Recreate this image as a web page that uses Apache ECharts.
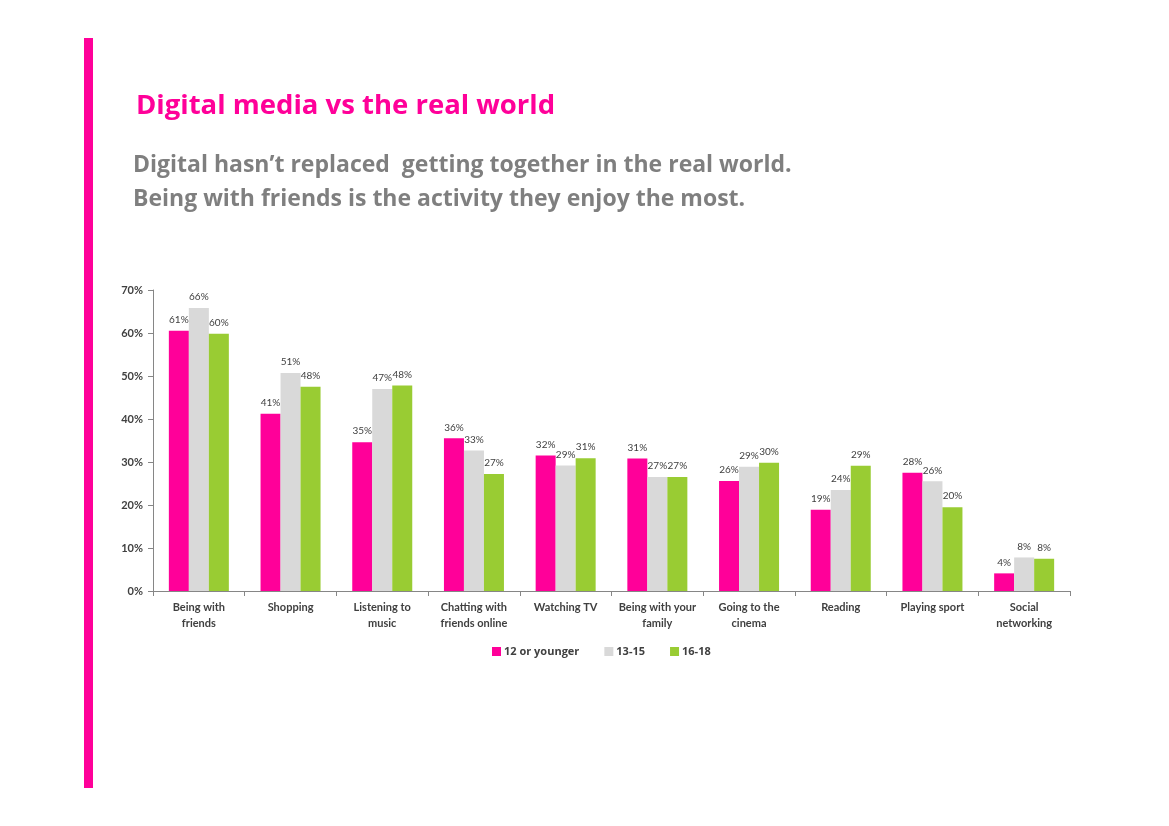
<!DOCTYPE html>
<html lang="en">
<head>
<meta charset="UTF-8">
<title>Digital media vs the real world</title>
<script src="https://cdn.jsdelivr.net/npm/echarts@6/dist/echarts.min.js"></script>
<style>
  html, body { margin: 0; padding: 0; background: #fff; }
  #chart { width: 1169px; height: 826px; }
</style>
</head>
<body>
<div id="chart"></div>
<script>
// categories and values (percent)
var categories = ['Being with\nfriends', 'Shopping', 'Listening to\nmusic', 'Chatting with\nfriends online',
  'Watching TV', 'Being with your\nfamily', 'Going to the\ncinema', 'Reading', 'Playing sport', 'Social\nnetworking'];
var seriesNames = ['12 or younger', '13-15', '16-18'];
var young = [60.5, 41.2, 34.6, 35.5, 31.5, 30.8, 25.6, 18.9, 27.5, 4.1];
var mid = [65.8, 50.7, 47.0, 32.7, 29.2, 26.5, 28.9, 23.5, 25.5, 7.8];
var older = [59.8, 47.5, 47.8, 27.2, 30.9, 26.5, 29.8, 29.1, 19.5, 7.5];
var yTicks = [0, 10, 20, 30, 40, 50, 60, 70];

var colors = ['#FF0099', '#D9D9D9', '#99CC33'];
var font = 'Lato, "Open Sans", sans-serif';
var wideFont = '"Open Sans", Lato, sans-serif';

var chart = echarts.init(document.getElementById('chart'));

function makeSeries(name, data, color) {
  return {
    name: name,
    type: 'bar',
    data: data,
    barWidth: 20,
    barGap: '0%',
    itemStyle: { color: color },
    label: {
      show: true,
      position: 'top',
      distance: 6,
      color: '#404040',
      fontFamily: font,
      fontSize: 10,
      formatter: function (p) { return Math.round(p.value) + '%'; }
    }
  };
}

chart.setOption({
  animation: false,
  color: colors,
  graphic: [
    { type: 'rect', left: 84, top: 38, shape: { width: 9, height: 750 }, style: { fill: '#FF0099' } },
    { type: 'text', left: 136, top: 92,
      style: { text: 'Digital media vs the real world', fill: '#FF0099', font: 'bold 27.5px ' + wideFont } },
    { type: 'text', left: 133, top: 148,
      style: { text: 'Digital hasn\u2019t replaced  getting together in the real world.\nBeing with friends is the activity they enjoy the most.',
        fill: '#7F7F7F', font: 'bold 23px ' + wideFont, lineHeight: 34 } }
  ],
  grid: { left: 153, right: 99, top: 290, bottom: 235, containLabel: false },
  legend: {
    data: seriesNames,
    bottom: 164,
    left: 487,
    itemWidth: 9,
    itemHeight: 9,
    itemGap: 25,
    icon: 'rect',
    textStyle: { color: '#404040', fontFamily: wideFont, fontSize: 11, fontWeight: 'bold', padding: [0, 0, 0, -2] }
  },
  xAxis: {
    type: 'category',
    data: categories,
    axisLine: { lineStyle: { color: '#868686' } },
    axisTick: { show: true, alignWithLabel: false, length: 5, lineStyle: { color: '#868686' } },
    axisLabel: { color: '#404040', fontFamily: font, fontSize: 11, fontWeight: 'bold', lineHeight: 16, margin: 8, interval: 0 }
  },
  yAxis: {
    type: 'value',
    min: yTicks[0],
    max: yTicks[yTicks.length - 1],
    interval: 10,
    splitLine: { show: false },
    axisLine: { show: true, lineStyle: { color: '#868686' } },
    axisTick: { show: true, length: 5, lineStyle: { color: '#868686' } },
    axisLabel: { color: '#404040', fontFamily: font, fontSize: 11, fontWeight: 'bold', margin: 10,
      formatter: function (v) { return v + '%'; } }
  },
  series: [
    makeSeries(seriesNames[0], young, colors[0]),
    makeSeries(seriesNames[1], mid, colors[1]),
    makeSeries(seriesNames[2], older, colors[2])
  ]
});
</script>
</body>
</html>
